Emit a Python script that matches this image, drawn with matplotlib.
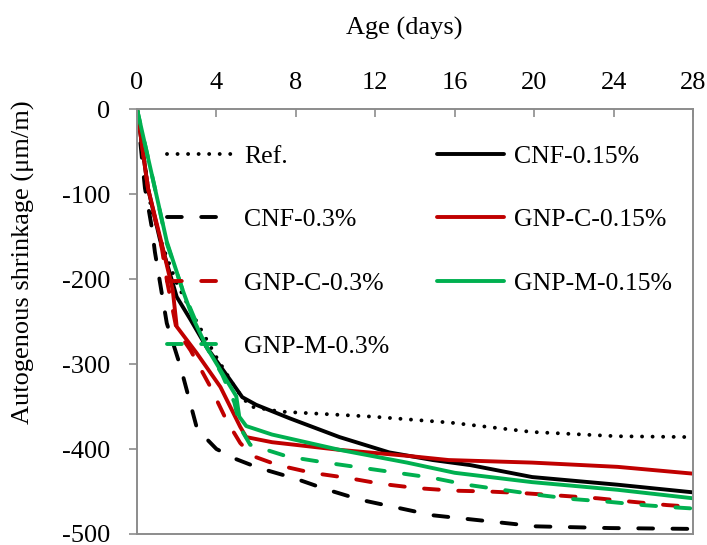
import matplotlib
matplotlib.use("Agg")
import matplotlib.pyplot as plt

plt.rcParams['font.family'] = ['Liberation Serif', 'DejaVu Serif']

# ---- data (days, autogenous shrinkage in um/m) ----
ref_days = [0, 0.7, 1.3, 2.0, 3.0, 4.0, 5.0, 5.7, 7.2, 11.9, 15.8, 19.9, 24.2, 28]
ref_vals = [0, -115, -162, -205, -250, -292, -330, -350, -356, -362, -369, -380, -385, -386]

cnf015_days = [0, 0.55, 1.16, 2.0, 2.7, 3.5, 4.7, 5.3, 6.0, 7.7, 10.2, 12.7, 14.9, 16.8, 19.9, 24.2, 28]
cnf015_vals = [0, -93, -154, -221, -248, -280, -319, -339, -348, -364, -386, -404, -413, -419, -433, -442, -451]

cnf03_days = [0, 0.4, 0.75, 0.9, 1.5, 2.2, 3.0, 3.5, 4.0, 4.5, 5.0, 6.1, 8.0, 9.6, 11.3, 13.1, 14.9, 16.5, 20.1, 23.8, 28]
cnf03_vals = [0, -93, -140, -168, -252, -304, -374, -388, -400, -406, -412, -422, -435, -448, -460, -469, -478, -482, -491, -493, -494]

gnpc015_days = [0, 0.55, 1.26, 1.8, 2.0, 3.0, 4.2, 5.2, 5.5, 6.8, 10.2, 13.6, 15.7, 19.9, 24.2, 28]
gnpc015_vals = [0, -93, -160, -213, -256, -287, -327, -374, -386, -392, -401, -408, -413, -416, -421, -429]

gnpc03_days = [0, 0.55, 1.26, 1.5, 2.0, 2.7, 3.7, 4.5, 5.2, 5.8, 7.1, 8.8, 10.6, 12.3, 14.1, 15.9, 17.7, 19.5, 21.4, 23.2, 24.9, 26.7, 28]
gnpc03_vals = [0, -93, -165, -201, -260, -284, -327, -366, -393, -408, -419, -428, -434, -441, -446, -449, -450, -452, -455, -458, -462, -466, -468]

gnpm015_days = [0, 0.9, 1.5, 2.3, 2.8, 3.5, 4.3, 5.0, 5.15, 5.5, 6.8, 10.2, 13.6, 16.0, 19.9, 24.2, 28]
gnpm015_vals = [0, -93, -156, -213, -245, -280, -311, -338, -362, -373, -383, -401, -416, -428, -439, -448, -458]

gnpm03_days = [0, 0.9, 1.5, 2.3, 3.5, 4.3, 4.9, 5.2, 5.7, 7.6, 9.5, 11.3, 13.1, 14.9, 16.6, 18.4, 20.2, 22.0, 23.7, 25.5, 27.3, 28]
gnpm03_vals = [0, -93, -158, -213, -280, -313, -345, -375, -395, -409, -416, -422, -428, -434, -442, -448, -454, -459, -462, -466, -469, -470]

labels = ['Ref.', 'CNF-0.15%', 'CNF-0.3%', 'GNP-C-0.15%', 'GNP-C-0.3%', 'GNP-M-0.15%', 'GNP-M-0.3%']
x_ticks = [0, 4, 8, 12, 16, 20, 24, 28]
y_ticks = [0, -100, -200, -300, -400, -500]

BLACK = '#000000'
RED = '#C00000'
GREEN = '#00B050'
GRAY = '#8C8C8C'

W, H = 707, 545
fig = plt.figure(figsize=(W / 100, H / 100), dpi=100)
L, R, T, B = 137, 693, 109, 534
ax = fig.add_axes([L / W, 1 - B / H, (R - L) / W, (B - T) / H])

lw = 2.8
dotted = (0, (0.01, 2.7))
dashed = (0, (3.8, 5.0))

series = [
    (ref_days, ref_vals, BLACK, dotted),
    (cnf015_days, cnf015_vals, BLACK, '-'),
    (cnf03_days, cnf03_vals, BLACK, dashed),
    (gnpc015_days, gnpc015_vals, RED, '-'),
    (gnpc03_days, gnpc03_vals, RED, dashed),
    (gnpm015_days, gnpm015_vals, GREEN, '-'),
    (gnpm03_days, gnpm03_vals, GREEN, dashed),
]
handles = []
for (d, v, c, ls), lab in zip(series, labels):
    h, = ax.plot(d, v, color=c, lw=lw, linestyle=ls, label=lab,
                 dash_capstyle='round', solid_capstyle='round',
                 solid_joinstyle='round', dash_joinstyle='round')
    handles.append(h)

ax.set_xlim(0, 28)
ax.set_ylim(-500, 0)
ax.set_xticks(x_ticks)
ax.set_yticks(y_ticks)
ax.set_xticklabels([str(t) for t in x_ticks])
ax.set_yticklabels([str(t) for t in y_ticks])

ax.xaxis.tick_top()
ax.xaxis.set_label_position('top')
ax.tick_params(axis='x', direction='in', length=5.5, width=1.2, color=GRAY,
               labelsize=19, pad=11)
ax.tick_params(axis='y', direction='out', length=6, width=1.2, color=GRAY,
               labelsize=19, pad=13)
for s in ax.spines.values():
    s.set_color(GRAY)
    s.set_linewidth(1.4)

ax.set_xlabel('Age (days)', fontsize=19)
ax.xaxis.set_label_coords((404 - L) / (R - L), (B - 35) / (B - T))
fig.text(23 / W, 1 - 262 / H, 'Autogenous shrinkage (\u03bcm/m)', fontsize=19,
         rotation=90, ha='center', va='center')

order = [0, 2, 4, 6, 1, 3, 5]
leg = ax.legend([handles[i] for i in order], [labels[i] for i in order],
                ncol=2, loc='upper left', frameon=False, fontsize=18.5,
                bbox_to_anchor=(167 / W, 1 - 145 / H), bbox_transform=fig.transFigure,
                borderpad=0, borderaxespad=0, handlelength=2.6, handletextpad=0.4,
                columnspacing=1.85, labelspacing=1.57)

fig.savefig('out.png', dpi=100)
